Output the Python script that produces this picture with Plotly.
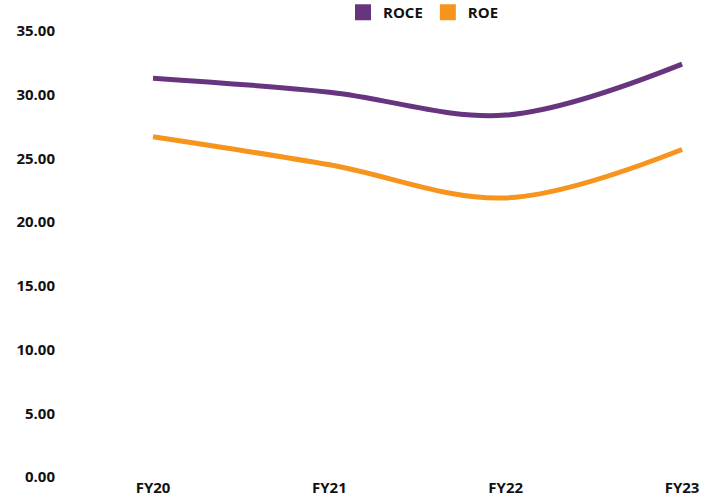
import plotly.graph_objects as go

years = ["FY20", "FY21", "FY22", "FY23"]
roce = [31.3, 30.2, 28.4, 32.4]
roe = [26.7, 24.5, 21.9, 25.7]
y_ticks = [0, 5, 10, 15, 20, 25, 30, 35]

purple = "#67347f"
orange = "#f7941d"
font_fam = "Open Sans"

fig = go.Figure()
fig.add_trace(go.Scatter(x=years, y=roce, mode="lines", line=dict(color=purple, width=5, shape="spline", smoothing=1.0), showlegend=False, name="ROCE"))
fig.add_trace(go.Scatter(x=years, y=roe, mode="lines", line=dict(color=orange, width=5, shape="spline", smoothing=1.0), showlegend=False, name="ROE"))
# legend entries with square swatches
fig.add_trace(go.Scatter(x=[None], y=[None], mode="markers", marker=dict(symbol="square", size=17, color=purple), name="ROCE"))
fig.add_trace(go.Scatter(x=[None], y=[None], mode="markers", marker=dict(symbol="square", size=17, color=orange), name="ROE"))

W, H = 713, 499
fig.update_layout(
    width=W, height=H,
    margin=dict(l=0, r=0, t=0, b=0, autoexpand=False),
    plot_bgcolor="white", paper_bgcolor="white",
    font=dict(family=font_fam, size=15, color="#111111"),
    legend=dict(orientation="h", x=0.594, xanchor="center", y=1.008, yanchor="top",
                font=dict(family=font_fam, size=15, color="#111111", weight="bold"),
                itemwidth=30, traceorder="normal", bgcolor="rgba(0,0,0,0)"),
    xaxis=dict(type="category", range=[-0.329, 3.13], domain=[95 / W, 705 / W],
               showgrid=False, zeroline=False, showline=False,
               tickfont=dict(family=font_fam, size=15, color="#111111", weight="bold"),
               ticks="", automargin=False),
    yaxis=dict(range=[0, 35], domain=[22 / H, 468 / H], tickvals=y_ticks, tickformat=".2f",
               showgrid=False, zeroline=False, showline=False,
               tickfont=dict(family=font_fam, size=15, color="#111111", weight="bold"),
               ticks="outside", ticklen=36, tickcolor="rgba(0,0,0,0)", automargin=False),
)
fig.write_html("out.html")
